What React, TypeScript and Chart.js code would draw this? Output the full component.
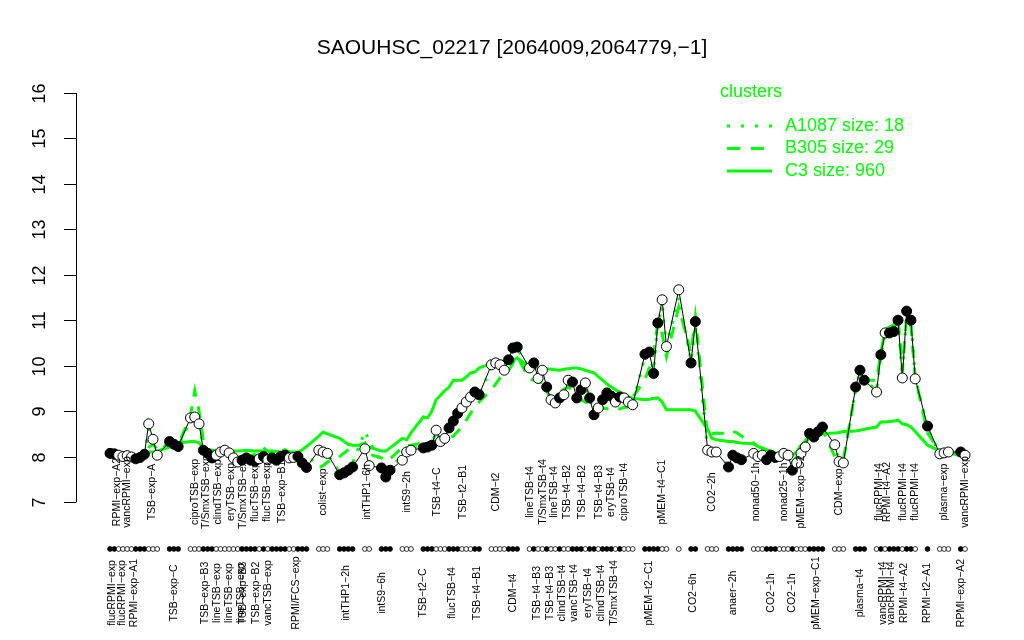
import React, { useEffect, useRef } from 'react';
import { Chart, registerables } from 'chart.js';
Chart.register(...registerables);

const chartTitle = 'SAOUHSC_02217 [2064009,2064779,\u22121]';
const yTicks = [7, 8, 9, 10, 11, 12, 13, 14, 15, 16];

// number of samples in each contiguous block of conditions
const runLengths = [12, 3, 28, 3, 4, 2, 3, 3, 14, 7, 25, 6, 1, 2, 3, 4, 17, 3, 3, 10, 1, 3, 2];

const expression = [
  8.07, 8.06, 8.03, 8.0, 8.02, 7.99, 7.95, 7.98, 8.05, 8.72, 8.38, 8.03,
  8.33, 8.27, 8.22,
  8.85, 8.87, 8.72, 8.14, 8.07, 7.97, 8.03, 8.1, 8.14, 8.08, 7.97, 7.88, 7.92, 7.97, 7.92, 7.9, 7.95, 8.0, 7.93, 7.97, 7.92, 8.0, 8.03, 7.97, 7.98, 8.0, 7.86, 7.76,
  8.14, 8.1, 8.07,
  7.6, 7.64, 7.7, 7.77,
  8.17, 7.8,
  7.75, 7.55, 7.7,
  7.92, 8.1, 8.14,
  8.19, 8.21, 8.25, 8.58, 8.33, 8.4, 8.63, 8.78, 8.95, 9.07, 9.2, 9.31, 9.42, 9.36,
  10.02, 10.06, 10.02, 9.9, 10.13, 10.39, 10.41,
  9.95, 10.06, 9.72, 9.9, 9.53, 9.25, 9.18, 9.29, 9.36, 9.68, 9.64, 9.29, 9.47, 9.62, 9.29, 8.92, 9.07, 9.25, 9.4, 9.33, 9.2, 9.31, 9.29, 9.2, 9.14,
  10.25, 10.3, 9.83, 10.94, 11.45, 10.42,
  11.67,
  10.06, 10.97,
  8.14, 8.1, 8.1,
  7.77, 8.03, 7.97, 7.93,
  8.07, 8.0, 8.03, 7.93, 8.03, 7.98, 8.0, 8.07, 8.03, 7.7, 7.86, 8.07, 8.21, 8.51, 8.43, 8.55, 8.65,
  8.26, 7.89, 7.86,
  9.53, 9.9, 9.68,
  9.42, 10.24, 10.72, 10.72, 10.75, 11.0, 9.73, 11.2, 11.0, 9.71,
  8.67,
  8.06, 8.08, 8.1,
  8.1, 8.03,
];

const filledFlags = [
  1, 1, 0, 0, 0, 0, 1, 1, 1, 0, 0, 0,
  1, 1, 1,
  0, 0, 0, 1, 1, 1, 0, 0, 0, 0, 0, 0, 1, 1, 1, 1, 0, 1, 0, 1, 1, 1, 1, 0, 0, 1, 1, 1,
  0, 0, 0,
  1, 1, 1, 1,
  0, 0,
  1, 1, 1,
  0, 0, 0,
  1, 1, 1, 0, 0, 0, 1, 1, 1, 0, 0, 0, 1, 1,
  0, 0, 0, 0, 1, 1, 1,
  0, 1, 0, 0, 1, 0, 0, 1, 0, 0, 1, 1, 1, 0, 1, 1, 0, 1, 1, 1, 0, 1, 0, 0, 0,
  1, 1, 1, 1, 0, 0,
  0,
  1, 1,
  0, 0, 0,
  1, 1, 1, 1,
  0, 0, 0, 1, 1, 1, 0, 0, 0, 1, 0, 0, 0, 1, 1, 1, 1,
  0, 0, 0,
  1, 1, 1,
  0, 1, 0, 1, 1, 1, 0, 1, 1, 0,
  1,
  0, 0, 0,
  1, 0,
];

const clusterC3 = [
  8.0, 8.0, 8.0, 8.0, 8.0, 8.01, 8.02, 8.05, 8.1, 8.1, 8.1, 8.12,
  8.21, 8.27, 8.3,
  8.33, 8.33, 8.3, 8.19, 8.15, 8.14, 8.14, 8.13, 8.13, 8.12, 8.12, 8.12, 8.13, 8.14, 8.13, 8.12, 8.12, 8.12, 8.12, 8.12, 8.11, 8.1, 8.1, 8.1, 8.1, 8.1, 8.15, 8.22,
  8.45, 8.54, 8.5,
  8.4, 8.33, 8.27, 8.25,
  8.25, 8.21,
  8.12, 8.12, 8.19,
  8.4, 8.37, 8.52,
  8.87, 8.85, 9.0, 9.25, 9.35, 9.45, 9.53, 9.68, 9.68, 9.68, 9.75, 9.84, 9.86, 9.95,
  10.05, 10.08, 10.1, 10.1, 10.1, 10.12, 10.17,
  9.97, 9.96, 9.95, 9.95, 9.93, 9.92, 9.91, 9.9, 9.92, 9.93, 9.95, 9.95, 9.93, 9.9, 9.87, 9.84, 9.76, 9.68, 9.6, 9.53, 9.47, 9.42, 9.37, 9.32, 9.28,
  9.25, 9.26, 9.28, 9.29, 9.2, 9.03,
  9.03,
  9.03, 9.0,
  8.6, 8.4, 8.37,
  8.33, 8.33, 8.31, 8.3,
  8.28, 8.22, 8.19, 8.15, 8.12, 8.08, 8.06, 8.05, 8.04, 8.03, 8.1, 8.25, 8.33, 8.4, 8.43, 8.47, 8.5,
  8.52, 8.53, 8.55,
  8.56, 8.58, 8.6,
  8.65, 8.76, 8.76, 8.77, 8.78, 8.8, 8.72, 8.7, 8.65, 8.55,
  8.25,
  8.12, 8.1, 8.08,
  8.02, 8.0,
];

const clusterB305 = [
  8.05, 8.04, 8.0, 7.98, 8.0, 7.97, 7.95, 7.98, 8.05, 8.2, 8.28, 8.15,
  8.3, 8.26, 8.25,
  8.9, 9.45, 9.0, 8.35, 8.12, 8.05, 8.1, 8.15, 8.18, 8.14, 8.05, 8.0, 8.02, 8.05, 8.02, 8.05, 8.12, 8.2, 8.1, 8.08, 8.05, 8.12, 8.15, 8.1, 8.05, 7.95, 7.85, 7.78,
  7.75, 7.8, 7.88,
  8.0, 8.08, 8.15, 8.2,
  8.3, 8.05,
  7.97, 7.9, 7.95,
  8.2, 8.25, 8.25,
  8.3, 8.3, 8.32, 8.35, 8.38, 8.4, 8.42, 8.45, 8.55, 8.65, 8.8, 8.95, 9.09, 9.2,
  9.47, 9.6, 9.73, 9.8, 9.9, 10.05, 10.2,
  9.7, 9.68, 9.65, 9.62, 9.45, 9.25, 9.3, 9.4, 9.48, 9.53, 9.45, 9.35, 9.25, 9.2, 9.18, 9.12, 9.09, 9.07, 9.05, 9.03, 9.03, 9.05, 9.08, 9.1, 9.3,
  9.7, 9.95, 10.28, 10.94, 10.7, 10.2,
  11.29,
  10.28, 11.07,
  8.43, 8.5, 8.52,
  8.5, 8.55, 8.52, 8.45,
  8.3, 8.22, 8.18, 8.14, 8.1, 8.05, 7.98, 7.92, 7.88, 7.86, 8.0, 8.21, 8.35, 8.45, 8.52, 8.55, 8.6,
  8.0, 7.95, 7.93,
  9.47, 9.75, 9.68,
  9.68, 10.28, 10.79, 10.85, 10.9, 11.07, 9.9, 11.07, 10.86, 9.75,
  8.52,
  8.1, 8.1, 8.1,
  8.05, 8.03,
];

const clusterA1087 = [
  8.06, 8.05, 8.02, 8.0, 8.01, 7.98, 7.96, 7.99, 8.04, 8.6, 8.32, 8.06,
  8.32, 8.27, 8.22,
  8.8, 8.85, 8.7, 8.15, 8.1, 8.0, 8.05, 8.12, 8.15, 8.1, 8.0, 7.92, 7.95, 8.0, 7.95, 7.93, 7.98, 8.03, 7.96, 8.0, 7.95, 8.02, 8.05, 8.0, 8.0, 8.02, 7.88, 7.78,
  8.1, 8.08, 8.05,
  7.65, 7.7, 7.78, 7.85,
  8.55, 8.35,
  7.85, 7.62, 7.78,
  8.0, 8.15, 8.2,
  8.22, 8.24, 8.28, 8.55, 8.36, 8.42, 8.6, 8.75, 8.92, 9.05, 9.18, 9.28, 9.38, 9.34,
  9.98, 10.02, 10.0, 9.92, 10.1, 10.35, 10.38,
  9.92, 10.02, 9.75, 9.88, 9.55, 9.28, 9.2, 9.3, 9.4, 9.65, 9.6, 9.32, 9.45, 9.58, 9.28, 8.95, 9.1, 9.25, 9.38, 9.32, 9.22, 9.3, 9.27, 9.2, 9.15,
  10.2, 10.25, 9.9, 10.9, 11.3, 10.45,
  11.5,
  10.1, 10.9,
  8.15, 8.12, 8.1,
  7.8, 8.05, 8.0, 7.95,
  8.08, 8.02, 8.04, 7.95, 8.04, 8.0, 8.02, 8.08, 8.04, 7.74, 7.9, 8.1, 8.25, 8.5, 8.45, 8.55, 8.63,
  8.22, 7.92, 7.88,
  9.5, 9.85, 9.7,
  9.45, 10.2, 10.7, 10.72, 10.78, 10.98, 9.78, 11.15, 10.98, 9.75,
  8.62,
  8.06, 8.07, 8.08,
  8.08, 8.02,
];

const clusterNames = ['A1087', 'B305', 'C3'];
const clusterSizes = [18, 29, 960];

const topLabels = [
  'RPMI\u2212exp\u2212A2', 'vancRPMI\u2212exp', 'TSB\u2212exp\u2212A', 'ciproTSB\u2212exp', 'T/SmxTSB\u2212exp',
  'clindTSB\u2212exp', 'eryTSB\u2212exp', 'T/SmxTSB\u2212exp', 'flucTSB\u2212exp', 'flucTSB\u2212exp',
  'TSB\u2212exp\u2212B1', 'colist\u2212exp', 'intTHP1\u22126h', 'intS9\u22122h', 'TSB\u2212t4\u2212C',
  'TSB\u2212t2\u2212B1', 'CDM\u2212t2', 'lineTSB\u2212t4', 'T/SmxTSB\u2212t4', 'lineTSB\u2212t4',
  'TSB\u2212t4\u2212B2', 'TSB\u2212t4\u2212B2', 'TSB\u2212t4\u2212B3', 'eryTSB\u2212t4', 'ciproTSB\u2212t4',
  'pMEM\u2212t4\u2212C1', 'CO2\u22122h', 'nonad50\u22121h', 'nonad25\u22121h', 'pMEM\u2212exp\u2212C2',
  'CDM\u2212exp', 'flucRPMI\u2212t4', 'RPMI\u2212t4\u2212A2', 'flucRPMI\u2212t4', 'flucRPMI\u2212t4',
  'plasma\u2212exp', 'vancRPMI\u2212exp',
];
const topLabelAt = [
  1.6, 4, 9.8, 16, 18.6,
  21.4, 24.4, 27.2, 30, 32.8,
  36.3, 44, 50.5, 56, 61.2,
  67.2, 73, 79.1, 82.1, 84.7,
  87.7, 91.2, 95.1, 97.9, 100.9,
  108, 114, 120.5, 127, 131,
  138, 143.5, 145.5, 149.2, 152,
  155, 158,
];

const bottomLabels = [
  'flucRPMI\u2212exp', 'flucRPMI\u2212exp', 'RPMI\u2212exp\u2212A1', 'TSB\u2212exp\u2212C', 'TSB\u2212exp\u2212B3',
  'lineTSB\u2212exp', 'lineTSB\u2212exp', 'lineTSB\u2212exp', 'TSB\u2212exp\u2212B3', 'TSB\u2212exp\u2212B2',
  'vancTSB\u2212exp', 'RPMI/FCS\u2212exp', 'intTHP1\u22122h', 'intS9\u22126h', 'TSB\u2212t2\u2212C',
  'flucTSB\u2212t4', 'TSB\u2212t4\u2212B1', 'CDM\u2212t4', 'TSB\u2212t4\u2212B3', 'TSB\u2212t4\u2212B3',
  'clindTSB\u2212t4', 'vancTSB\u2212t4', 'eryTSB\u2212t4', 'clindTSB\u2212t4', 'T/SmxTSB\u2212t4',
  'pMEM\u2212t2\u2212C1', 'CO2\u22126h', 'anaer\u22122h', 'CO2\u22121h', 'CO2\u22121h',
  'pMEM\u2212exp\u2212C1', 'plasma\u2212t4', 'vancRPMI\u2212t4', 'vancRPMI\u2212t4', 'RPMI\u2212t4\u2212A2',
  'RPMI\u2212t2\u2212A1', 'RPMI\u2212exp\u2212A2',
];
const bottomLabelAt = [
  0.5, 2.8, 5.6, 13, 18.4,
  21.2, 24, 26.8, 27.3, 30.2,
  33, 39.5, 47.5, 52.2, 58,
  64.7, 70.5, 77, 80.7, 83.7,
  86.5, 89.3, 92.6, 95.6, 98.6,
  105, 111.5, 117, 124, 129,
  134.5, 141, 144.5, 146.5, 149.5,
  153, 157,
];

const GREEN = '#00ff00';
const FONT = '"Liberation Sans", Arial, Helvetica, sans-serif';
const GAP_EXTRA = 1.86;

const xPos: number[] = [];
{
  let k = 0;
  runLengths.forEach((len, ri) => {
    for (let j = 0; j < len; j++) {
      xPos.push(k + ri * GAP_EXTRA);
      k++;
    }
  });
}

function xAtIndex(f: number): number {
  const i0 = Math.max(0, Math.min(xPos.length - 1, Math.floor(f)));
  const i1 = Math.min(xPos.length - 1, i0 + 1);
  const t = f - i0;
  return xPos[i0] + (xPos[i1] - xPos[i0]) * t;
}

const toPoints = (arr: number[]) => arr.map((v, i) => ({ x: xPos[i], y: v }));

const overlayPlugin = {
  id: 'rOverlay',
  afterDraw(chart: any) {
    const ctx = chart.ctx as CanvasRenderingContext2D;
    const xs = chart.scales.x;
    const ys = chart.scales.y;
    const area = chart.chartArea;
    ctx.save();

    // title
    ctx.fillStyle = '#000';
    ctx.font = `21px ${FONT}`;
    ctx.textAlign = 'center';
    ctx.textBaseline = 'middle';
    ctx.fillText(chartTitle, chart.width / 2, 48);

    // y axis (R style)
    const axisX = area.left - 34;
    ctx.strokeStyle = '#000';
    ctx.lineWidth = 1;
    ctx.beginPath();
    ctx.moveTo(axisX + 0.5, ys.getPixelForValue(yTicks[0]));
    ctx.lineTo(axisX + 0.5, ys.getPixelForValue(yTicks[yTicks.length - 1]));
    ctx.stroke();
    ctx.font = `18px ${FONT}`;
    yTicks.forEach((t) => {
      const py = Math.round(ys.getPixelForValue(t)) + 0.5;
      ctx.beginPath();
      ctx.moveTo(axisX - 12, py);
      ctx.lineTo(axisX + 0.5, py);
      ctx.stroke();
      ctx.save();
      ctx.translate(axisX - 36, py);
      ctx.rotate(-Math.PI / 2);
      ctx.textAlign = 'center';
      ctx.textBaseline = 'middle';
      ctx.fillText(String(t), 0, 0);
      ctx.restore();
    });

    // group labels
    ctx.font = `10.5px ${FONT}`;
    ctx.fillStyle = '#000';
    const drawLabel = (text: string, at: number, cy: number) => {
      const px = xs.getPixelForValue(xAtIndex(at));
      ctx.save();
      ctx.translate(px, cy);
      ctx.rotate(-Math.PI / 2);
      ctx.textAlign = 'center';
      ctx.textBaseline = 'middle';
      ctx.fillText(text, 0, 0);
      ctx.restore();
    };
    topLabels.forEach((t, i) => drawLabel(t, topLabelAt[i], area.bottom - 10));
    bottomLabels.forEach((t, i) => drawLabel(t, bottomLabelAt[i], area.bottom + 91));

    // sample strip
    const stripY = area.bottom + 47;
    xPos.forEach((x, i) => {
      const px = xs.getPixelForValue(x);
      ctx.beginPath();
      ctx.arc(px, stripY, 2.4, 0, Math.PI * 2);
      ctx.fillStyle = filledFlags[i] ? '#000' : '#fff';
      ctx.fill();
      ctx.lineWidth = 0.8;
      ctx.strokeStyle = '#000';
      ctx.stroke();
    });

    // legend
    const lx = 720;
    ctx.fillStyle = GREEN;
    ctx.font = `18px ${FONT}`;
    ctx.textAlign = 'left';
    ctx.textBaseline = 'middle';
    ctx.fillText('clusters', lx, 92);
    const dashes = [[3, 11], [13, 11], []];
    clusterNames.forEach((name, i) => {
      const y = 126 + i * 22.5;
      ctx.strokeStyle = GREEN;
      ctx.lineWidth = 3;
      ctx.setLineDash(dashes[i]);
      ctx.beginPath();
      ctx.moveTo(lx + 7, y);
      ctx.lineTo(lx + 52, y);
      ctx.stroke();
      ctx.setLineDash([]);
      ctx.fillText(`${name} size: ${clusterSizes[i]}`, lx + 65, y);
    });

    ctx.restore();
  },
};

export default function App() {
  const canvasRef = useRef<HTMLCanvasElement | null>(null);

  useEffect(() => {
    document.body.style.margin = '0';
    const canvas = canvasRef.current;
    if (!canvas) return;
    const chart = new Chart(canvas, {
      type: 'line',
      data: {
        datasets: [
          {
            label: 'expression',
            data: toPoints(expression),
            borderColor: '#000',
            borderWidth: 1,
            pointRadius: 5,
            pointBorderWidth: 1,
            pointBorderColor: '#000',
            pointBackgroundColor: filledFlags.map((f) => (f ? '#000' : '#fff')),
            tension: 0,
            clip: false,
          } as any,
          {
            label: clusterNames[0],
            data: toPoints(clusterA1087),
            borderColor: GREEN,
            borderWidth: 3,
            borderDash: [3, 9],
            pointRadius: 0,
            tension: 0,
            clip: false,
          } as any,
          {
            label: clusterNames[1],
            data: toPoints(clusterB305),
            borderColor: GREEN,
            borderWidth: 3,
            borderDash: [12, 10],
            pointRadius: 0,
            tension: 0,
            clip: false,
          } as any,
          {
            label: clusterNames[2],
            data: toPoints(clusterC3),
            borderColor: GREEN,
            borderWidth: 3,
            pointRadius: 0,
            tension: 0,
            clip: false,
          } as any,
        ],
      },
      options: {
        animation: false,
        responsive: false,
        maintainAspectRatio: false,
        layout: { padding: { left: 110, right: 59, top: 93, bottom: 138 } },
        scales: {
          x: { type: 'linear', display: false, min: xPos[0], max: xPos[xPos.length - 1] },
          y: { type: 'linear', display: false, min: 7, max: 16 },
        },
        plugins: {
          legend: { display: false },
          tooltip: { enabled: false },
          title: { display: false },
        },
      },
      plugins: [overlayPlugin],
    });
    return () => chart.destroy();
  }, []);

  return (
    <div style={{ width: 1024, height: 640, background: '#fff' }}>
      <canvas ref={canvasRef} width={1024} height={640} style={{ display: 'block' }} />
    </div>
  );
}
